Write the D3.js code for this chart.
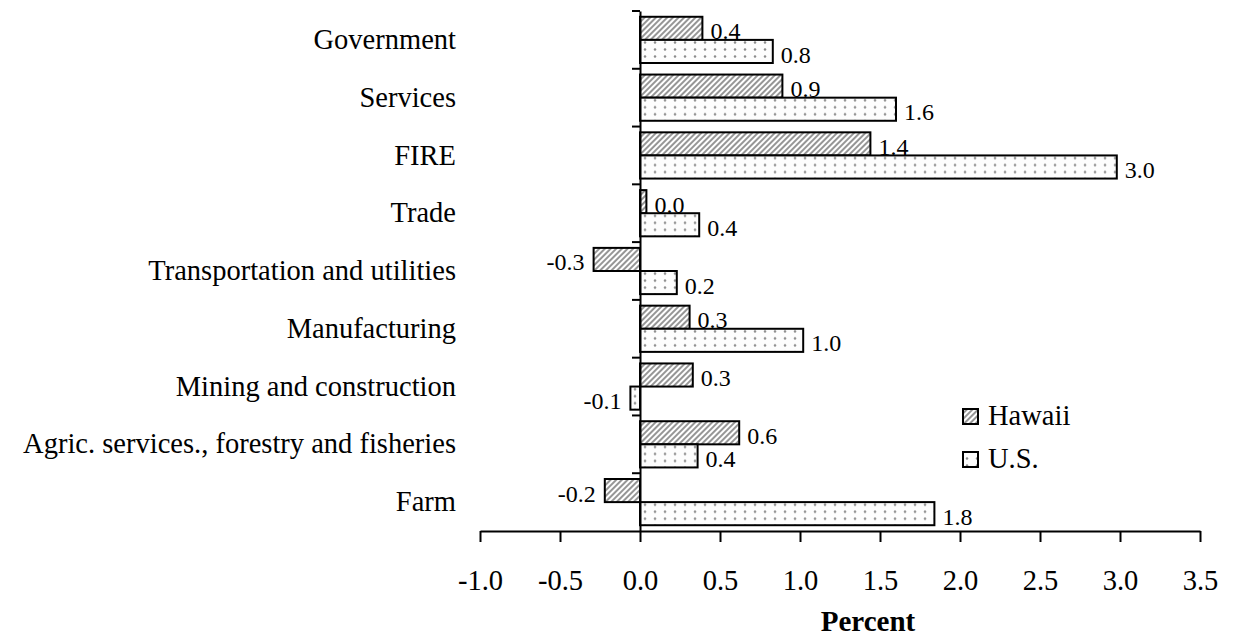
<!DOCTYPE html>
<meta charset="utf-8">
<html>
<head>
<style>
  body { margin: 0; background: #fff; }
  text { font-family: "Liberation Serif", "Times New Roman", serif; fill: #000; }
  .axis path, .axis line { stroke: #000; stroke-width: 2px; }
  .bar { stroke: #000; stroke-width: 2px; }
</style>
</head>
<body>
<svg width="1234" height="638"></svg>
<script src="https://d3js.org/d3.v7.min.js"></script>
<script>

// categories, top to bottom
var categories = ["Government", "Services", "FIRE", "Trade",
  "Transportation and utilities", "Manufacturing", "Mining and construction",
  "Agric. services., forestry and fisheries", "Farm"];

var series = ["Hawaii", "U.S."];

// percent values
var hawaii = [0.39, 0.89, 1.44, 0.04, -0.29, 0.31, 0.33, 0.62, -0.22];
var us     = [0.83, 1.60, 2.98, 0.37, 0.23, 1.02, -0.06, 0.36, 1.84];

var xTicks = [-1.0, -0.5, 0.0, 0.5, 1.0, 1.5, 2.0, 2.5, 3.0, 3.5];

// plain hyphen for negatives, like the original
var fmt = function (v) { return (+v).toFixed(1); };

var svg = d3.select("svg"),
    margin = {top: 11, left: 480, right: 34, bottom: 107},
    width = 1234 - margin.left - margin.right,
    height = 638 - margin.top - margin.bottom;

var defs = svg.append("defs");

// diagonal hatch for Hawaii
var hatch = defs.append("pattern")
    .attr("id", "hatch")
    .attr("patternUnits", "userSpaceOnUse")
    .attr("width", 4).attr("height", 4)
    .attr("patternTransform", "rotate(45)");
hatch.append("rect").attr("width", 4).attr("height", 4).attr("fill", "#fff");
hatch.append("line")
    .attr("x1", 1).attr("y1", 0).attr("x2", 1).attr("y2", 4)
    .attr("stroke", "#969696").attr("stroke-width", 2);

// sparse dots for U.S.
var dots = defs.append("pattern")
    .attr("id", "dots")
    .attr("patternUnits", "userSpaceOnUse")
    .attr("width", 10).attr("height", 7);
dots.append("rect").attr("width", 10).attr("height", 7).attr("fill", "#fdfdfd");
dots.append("circle").attr("cx", 5).attr("cy", 3.5).attr("r", 1.25).attr("fill", "#8c8c8c");

var fills = {"Hawaii": "url(#hatch)", "U.S.": "url(#dots)"};

var x = d3.scaleLinear().domain([-1.0, 3.5]).range([0, width]);

var y0 = d3.scaleBand().domain(categories).range([0, height]);
var y1 = d3.scaleBand().domain(series).range([0, y0.bandwidth()]).paddingOuter(0.25);

var g = svg.append("g")
    .attr("transform", "translate(" + margin.left + "," + margin.top + ")");

var rows = categories.map(function (c, i) {
  return {cat: c, values: [{s: "Hawaii", v: hawaii[i]}, {s: "U.S.", v: us[i]}]};
});

var groups = g.selectAll(".cat")
    .data(rows)
  .enter().append("g")
    .attr("class", "cat")
    .attr("transform", function (d) { return "translate(0," + y0(d.cat) + ")"; });

groups.selectAll("rect")
    .data(function (d) { return d.values; })
  .enter().append("rect")
    .attr("class", "bar")
    .attr("x", function (d) { return x(Math.min(0, d.v)); })
    .attr("y", function (d) { return y1(d.s); })
    .attr("width", function (d) { return Math.abs(x(d.v) - x(0)); })
    .attr("height", y1.bandwidth())
    .attr("fill", function (d) { return fills[d.s]; });

groups.selectAll(".lbl")
    .data(function (d) { return d.values; })
  .enter().append("text")
    .attr("class", "lbl")
    .attr("x", function (d) { return d.v < 0 ? x(d.v) - 9 : x(d.v) + 8; })
    .attr("y", function (d) { return y1(d.s) + y1.bandwidth() - 0.5; })
    .attr("text-anchor", function (d) { return d.v < 0 ? "end" : "start"; })
    .style("font-size", "24px")
    .text(function (d) { return fmt(d.v); });

// x axis
g.append("g")
    .attr("class", "axis")
    .attr("transform", "translate(0," + height + ")")
    .call(d3.axisBottom(x).tickValues(xTicks).tickSize(11).tickPadding(28)
      .tickSizeOuter(0).tickFormat(fmt))
    .call(function (a) { a.selectAll("text").style("font-size", "28.5px"); });

// category axis at zero, labels right-aligned at x = 456
var yAxis = g.append("g")
    .attr("class", "axis")
    .attr("transform", "translate(" + x(0) + ",0)")
    .call(d3.axisLeft(y0).tickSize(0).tickPadding(x(0) + margin.left - 456))
    .call(function (a) { a.selectAll("text").style("font-size", "28.5px"); });

// boundary ticks between categories
yAxis.selectAll(".bnd")
    .data(categories)
  .enter().append("line")
    .attr("class", "bnd")
    .attr("x1", -8).attr("x2", 0)
    .attr("y1", function (d) { return y0(d); })
    .attr("y2", function (d) { return y0(d); });

// axis title
svg.append("text")
    .attr("x", 868)
    .attr("y", 631)
    .attr("text-anchor", "middle")
    .style("font-size", "29px")
    .style("font-weight", "bold")
    .text("Percent");

// legend
var legend = svg.append("g").attr("transform", "translate(962,0)");
var legendY = [425, 468];
series.forEach(function (s, i) {
  legend.append("rect")
      .attr("x", 1).attr("y", legendY[i] - 16)
      .attr("width", 15).attr("height", 15)
      .attr("fill", fills[s])
      .attr("stroke", "#000").attr("stroke-width", 2);
  legend.append("text")
      .attr("x", 26).attr("y", legendY[i])
      .style("font-size", "28.5px")
      .text(s);
});

</script>
</body>
</html>
